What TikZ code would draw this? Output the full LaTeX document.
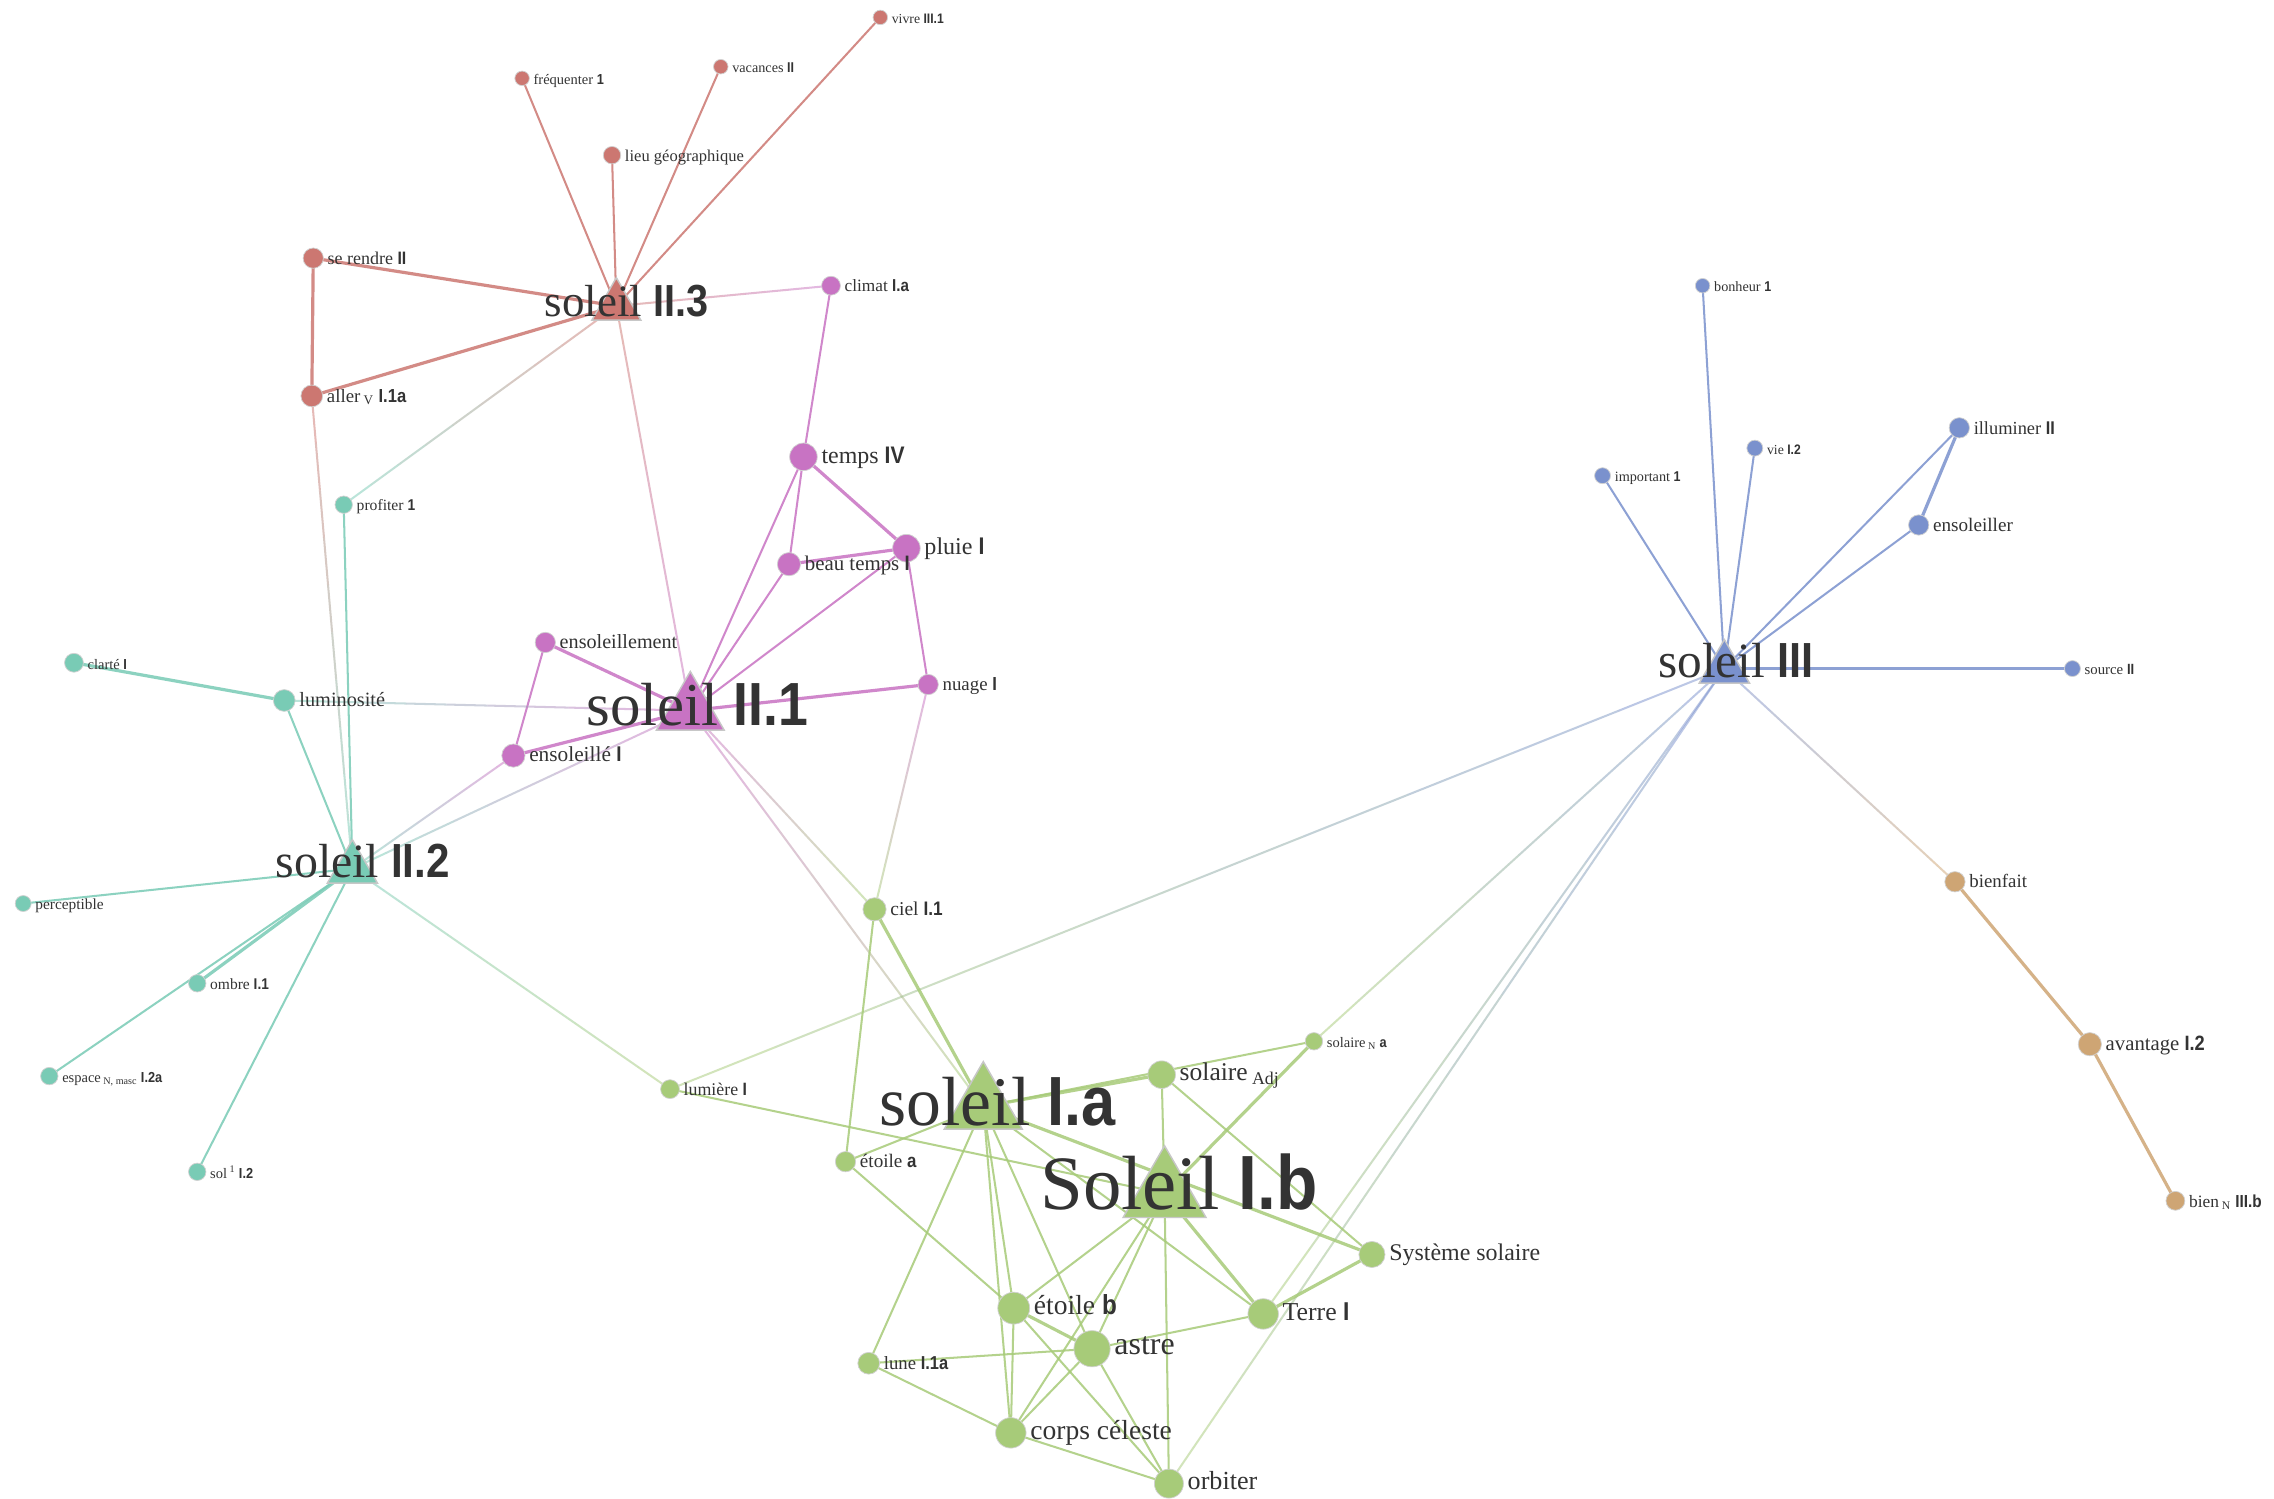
\documentclass[tikz,border=0pt]{standalone}
\usepackage{fontspec}
\setmainfont{Liberation Serif}
\newfontfamily\snsfont[FakeStretch=0.88]{Liberation Sans}
\usepackage{xcolor}
\usepackage{tikz}
\usetikzlibrary{positioning,calc,shapes.geometric}

\definecolor{cRed}{RGB}{204,119,113}
\definecolor{cMag}{RGB}{200,115,195}
\definecolor{cTeal}{RGB}{121,203,181}
\definecolor{cBlue}{RGB}{122,145,205}
\definecolor{cTan}{RGB}{206,165,116}
\definecolor{cGreen}{RGB}{167,203,121}
\definecolor{txt}{RGB}{51,51,51}

\pgfdeclarelayer{bg}
\pgfsetlayers{bg,main}

\newcommand{\sns}[1]{{\snsfont\bfseries #1}}
% link that fades from one cluster colour to the other
\newcommand{\blendlink}[4]{%
  \foreach \seg in {0,...,9}{%
    \pgfmathsetmacro{\segA}{\seg/10}%
    \pgfmathsetmacro{\segB}{(\seg+1)/10}%
    \pgfmathtruncatemacro{\segMix}{100-\seg*100/9}%
    \draw[lnk, draw opacity=0.5, draw=#2!\segMix!#4]
      ($(#1.center)!\segA!(#3.center)$) -- ($(#1.center)!\segB!(#3.center)$);
  }%
}

\tikzset{
  word/.style={circle, inner sep=0pt, minimum size=#1, draw=white!82!black, line width=0.5pt},
  sense/.style={regular polygon, regular polygon sides=3, inner sep=0pt, minimum size=#1, draw=white!78!black, line width=1pt},
  lbl/.style={font=\fontsize{#1}{#1}\selectfont, text=txt, inner sep=0pt, anchor=mid west, yshift=-2pt},
  biglbl/.style={font=\fontsize{#1}{#1}\selectfont, text=txt, inner sep=0pt, anchor=base},
  lnk/.style={line width=1.4pt, draw opacity=0.85},
  heavy/.style={line width=2.2pt},
}

\begin{document}
\begin{tikzpicture}[x=1pt,y=-1pt]
        \useasboundingbox (0,0) rectangle (1568,1033);
        \begin{pgfonlayer}{bg}
          \fill[white] (0,0) rectangle (1568,1033);
        \end{pgfonlayer}

        % soleil II.3
        \node[sense=39, fill=cRed] (sII3) at (425,211) {};
        \node[word=10, fill=cRed] (vivre) at (607,12) {};
        \node[word=10, fill=cRed] (vacances) at (497,46) {};
        \node[word=10, fill=cRed] (frequenter) at (360,54) {};
        \node[word=12, fill=cRed] (lieu) at (422,107) {};
        \node[word=14, fill=cRed] (serendre) at (216,178) {};
        \node[word=15, fill=cRed] (aller) at (215,273) {};

        % soleil II.1
        \node[sense=54, fill=cMag] (sII1) at (476,490) {};
        \node[word=13, fill=cMag] (climat) at (573,197) {};
        \node[word=19, fill=cMag] (temps) at (554,315) {};
        \node[word=19, fill=cMag] (pluie) at (625,378) {};
        \node[word=16, fill=cMag] (beautemps) at (544,389) {};
        \node[word=14, fill=cMag] (ensoleillement) at (376,443) {};
        \node[word=14, fill=cMag] (nuage) at (640,472) {};
        \node[word=16, fill=cMag] (ensoleille) at (354,521) {};

        % soleil II.2
        \node[sense=40, fill=cTeal] (sII2) at (243,599) {};
        \node[word=12, fill=cTeal] (profiter) at (237,348) {};
        \node[word=13, fill=cTeal] (clarte) at (51,457) {};
        \node[word=15, fill=cTeal] (luminosite) at (196,483) {};
        \node[word=11, fill=cTeal] (perceptible) at (16,623) {};
        \node[word=12, fill=cTeal] (ombre) at (136,678) {};
        \node[word=12, fill=cTeal] (espace) at (34,742) {};
        \node[word=12, fill=cTeal] (sol) at (136,808) {};

        % soleil III
        \node[sense=40, fill=cBlue] (sIII) at (1189,461) {};
        \node[word=10, fill=cBlue] (bonheur) at (1174,197) {};
        \node[word=14, fill=cBlue] (illuminer) at (1351,295) {};
        \node[word=11, fill=cBlue] (vie) at (1210,309) {};
        \node[word=11, fill=cBlue] (important) at (1105,328) {};
        \node[word=14, fill=cBlue] (ensoleiller) at (1323,362) {};
        \node[word=11, fill=cBlue] (source) at (1429,461) {};
        \node[word=14, fill=cTan] (bienfait) at (1348,608) {};
        \node[word=16, fill=cTan] (avantage) at (1441,720) {};
        \node[word=13, fill=cTan] (bien) at (1500,828) {};

        % soleil I.a / Soleil I.b
        \node[sense=62, fill=cGreen] (sIa) at (678,763) {};
        \node[sense=66, fill=cGreen] (sIb) at (803,823) {};
        \node[word=16, fill=cGreen] (ciel) at (603,627) {};
        \node[word=12, fill=cGreen] (solaireN) at (906,718) {};
        \node[word=19, fill=cGreen] (solaireAdj) at (801,741) {};
        \node[word=13, fill=cGreen] (lumiere) at (462,751) {};
        \node[word=14, fill=cGreen] (etoilea) at (583,801) {};
        \node[word=18, fill=cGreen] (systeme) at (946,865) {};
        \node[word=22, fill=cGreen] (etoileb) at (699,902) {};
        \node[word=21, fill=cGreen] (terre) at (871,906) {};
        \node[word=25, fill=cGreen] (astre) at (753,930) {};
        \node[word=15, fill=cGreen] (lune) at (599,940) {};
        \node[word=21, fill=cGreen] (corps) at (697,988) {};
        \node[word=20, fill=cGreen] (orbiter) at (806,1023) {};

        % Labels
        \node[biglbl=31] (sII3-t) at (432,218) {soleil \sns{II.3}};
        \node[biglbl=42] (sII1-t) at (481,500) {soleil \sns{II.1}};
        \node[biglbl=33] (sII2-t) at (250,605) {soleil \sns{II.2}};
        \node[biglbl=34] (sIII-t) at (1197,467) {soleil \sns{III}};
        \node[biglbl=48] (sIa-t) at (688,776) {soleil \sns{I.a}};
        \node[biglbl=53] (sIb-t) at (813,834) {Soleil \sns{I.b}};

        \node[right=2.5pt of vivre, lbl=9.5] (vivre-t) {vivre \sns{III.1}};
        \node[right=2.5pt of vacances, lbl=9.8] (vacances-t) {vacances \sns{II}};
        \node[right=2.5pt of frequenter, lbl=10] (frequenter-t) {fréquenter \sns{1}};
        \node[right=2.5pt of lieu, lbl=11.4] (lieu-t) {lieu géographique};
        \node[right=2.5pt of serendre, lbl=12.4] (serendre-t) {se rendre \sns{II}};
        \node[right=2.5pt of aller, lbl=13] (aller-t) {aller\,\textsubscript{V} \sns{I.1a}};

        \node[right=2.5pt of climat, lbl=11.9] (climat-t) {climat \sns{I.a}};
        \node[right=2.5pt of temps, lbl=16.5] (temps-t) {temps \sns{IV}};
        \node[right=2.5pt of pluie, lbl=16.6] (pluie-t) {pluie \sns{I}};
        \node[right=2.5pt of beautemps, lbl=14.4] (beautemps-t) {beau temps \sns{I}};
        \node[right=2.5pt of ensoleillement, lbl=13.9] (ensoleillement-t) {ensoleillement};
        \node[right=2.5pt of nuage, lbl=13] (nuage-t) {nuage \sns{I}};
        \node[right=2.5pt of ensoleille, lbl=14.7] (ensoleille-t) {ensoleillé \sns{I}};

        \node[right=2.5pt of profiter, lbl=10.8] (profiter-t) {profiter \sns{1}};
        \node[right=2.5pt of clarte, lbl=10] (clarte-t) {clarté \sns{I}};
        \node[right=2.5pt of luminosite, lbl=14] (luminosite-t) {luminosité};
        \node[right=2.5pt of perceptible, lbl=10.6] (perceptible-t) {perceptible};
        \node[right=2.5pt of ombre, lbl=10.7] (ombre-t) {ombre \sns{I.1}};
        \node[right=2.5pt of espace, lbl=10] (espace-t) {espace\,\textsubscript{N, masc} \sns{I.2a}};
        \node[right=2.5pt of sol, lbl=10] (sol-t) {sol\,\textsuperscript{1} \sns{I.2}};

        \node[right=2.5pt of bonheur, lbl=9.8] (bonheur-t) {bonheur \sns{1}};
        \node[right=2.5pt of illuminer, lbl=12.7] (illuminer-t) {illuminer \sns{II}};
        \node[right=2.5pt of vie, lbl=9.5] (vie-t) {vie \sns{I.2}};
        \node[right=2.5pt of important, lbl=9.8] (important-t) {important \sns{1}};
        \node[right=2.5pt of ensoleiller, lbl=13.2] (ensoleiller-t) {ensoleiller};
        \node[right=2.5pt of source, lbl=10.2] (source-t) {source \sns{II}};
        \node[right=2.5pt of bienfait, lbl=13] (bienfait-t) {bienfait};
        \node[right=2.5pt of avantage, lbl=14.3] (avantage-t) {avantage \sns{I.2}};
        \node[right=2.5pt of bien, lbl=12] (bien-t) {bien\,\textsubscript{N} \sns{III.b}};

        \node[right=2.5pt of ciel, lbl=13.5] (ciel-t) {ciel \sns{I.1}};
        \node[right=2.5pt of solaireN, lbl=10] (solaireN-t) {solaire\,\textsubscript{N} \sns{a}};
        \node[right=2.5pt of solaireAdj, lbl=17.6] (solaireAdj-t) {solaire\,\textsubscript{Adj}};
        \node[right=2.5pt of lumiere, lbl=12.3] (lumiere-t) {lumière \sns{I}};
        \node[right=2.5pt of etoilea, lbl=13.2] (etoilea-t) {étoile \sns{a}};
        \node[right=2.5pt of systeme, lbl=16.5] (systeme-t) {Système solaire};
        \node[right=2.5pt of etoileb, lbl=19] (etoileb-t) {étoile \sns{b}};
        \node[right=2.5pt of terre, lbl=17.8] (terre-t) {Terre \sns{I}};
        \node[right=2.5pt of astre, lbl=22] (astre-t) {astre};
        \node[right=2.5pt of lune, lbl=12.9] (lune-t) {lune \sns{I.1a}};
        \node[right=2.5pt of corps, lbl=19] (corps-t) {corps céleste};
        \node[right=2.5pt of orbiter, lbl=18] (orbiter-t) {orbiter};

        % Links
        \begin{pgfonlayer}{bg}
          \draw[lnk, cRed] (sII3.center) -- (vivre.center);
          \draw[lnk, cRed] (sII3.center) -- (vacances.center);
          \draw[lnk, cRed] (sII3.center) -- (frequenter.center);
          \draw[lnk, cRed] (sII3.center) -- (lieu.center);
          \draw[lnk, heavy, cRed] (sII3.center) -- (serendre.center);
          \draw[lnk, heavy, cRed] (sII3.center) -- (aller.center);
          \draw[lnk, heavy, cRed] (serendre.center) -- (aller.center);
          \blendlink{sII3}{cRed}{climat}{cMag}
          \blendlink{sII3}{cRed}{sII1}{cMag}
          \blendlink{sII3}{cRed}{profiter}{cTeal}
          \blendlink{aller}{cRed}{sII2}{cTeal}

          \draw[lnk, cMag] (climat.center) -- (temps.center);
          \draw[lnk, cMag] (temps.center) -- (sII1.center);
          \draw[lnk, cMag] (temps.center) -- (beautemps.center);
          \draw[lnk, heavy, cMag] (temps.center) -- (pluie.center);
          \draw[lnk, heavy, cMag] (beautemps.center) -- (pluie.center);
          \draw[lnk, cMag] (beautemps.center) -- (sII1.center);
          \draw[lnk, cMag] (pluie.center) -- (sII1.center);
          \draw[lnk, cMag] (pluie.center) -- (nuage.center);
          \draw[lnk, heavy, cMag] (nuage.center) -- (sII1.center);
          \draw[lnk, heavy, cMag] (ensoleillement.center) -- (sII1.center);
          \draw[lnk, cMag] (ensoleillement.center) -- (ensoleille.center);
          \draw[lnk, heavy, cMag] (ensoleille.center) -- (sII1.center);
          \blendlink{nuage}{cMag}{ciel}{cGreen}
          \blendlink{sII1}{cMag}{ciel}{cGreen}
          \blendlink{sII1}{cMag}{sIa}{cGreen}

          \draw[lnk, heavy, cTeal] (luminosite.center) -- (clarte.center);
          \draw[lnk, cTeal] (luminosite.center) -- (sII2.center);
          \draw[lnk, cTeal] (profiter.center) -- (sII2.center);
          \draw[lnk, cTeal] (perceptible.center) -- (sII2.center);
          \draw[lnk, heavy, cTeal] (ombre.center) -- (sII2.center);
          \draw[lnk, cTeal] (espace.center) -- (sII2.center);
          \draw[lnk, cTeal] (sol.center) -- (sII2.center);
          \blendlink{luminosite}{cTeal}{sII1}{cMag}
          \blendlink{sII2}{cTeal}{ensoleille}{cMag}
          \blendlink{sII2}{cTeal}{sII1}{cMag}
          \blendlink{sII2}{cTeal}{lumiere}{cGreen}

          \draw[lnk, cBlue] (sIII.center) -- (bonheur.center);
          \draw[lnk, cBlue] (sIII.center) -- (vie.center);
          \draw[lnk, cBlue] (sIII.center) -- (important.center);
          \draw[lnk, cBlue] (sIII.center) -- (illuminer.center);
          \draw[lnk, cBlue] (sIII.center) -- (ensoleiller.center);
          \draw[lnk, heavy, cBlue] (sIII.center) -- (source.center);
          \draw[lnk, heavy, cBlue] (illuminer.center) -- (ensoleiller.center);
          \blendlink{sIII}{cBlue}{bienfait}{cTan}
          \blendlink{sIII}{cBlue}{lumiere}{cGreen}
          \blendlink{sIII}{cBlue}{solaireN}{cGreen}
          \blendlink{sIII}{cBlue}{terre}{cGreen}
          \blendlink{sIII}{cBlue}{orbiter}{cGreen}
          \draw[lnk, heavy, cTan] (bienfait.center) -- (avantage.center);
          \draw[lnk, heavy, cTan] (avantage.center) -- (bien.center);

          \draw[lnk, heavy, cGreen] (ciel.center) -- (sIa.center);
          \draw[lnk, cGreen] (ciel.center) -- (etoilea.center);
          \draw[lnk, cGreen] (sIa.center) -- (solaireN.center);
          \draw[lnk, heavy, cGreen] (sIa.center) -- (solaireAdj.center);
          \draw[lnk, cGreen] (sIa.center) -- (etoilea.center);
          \draw[lnk, cGreen] (sIa.center) -- (lune.center);
          \draw[lnk, cGreen] (sIa.center) -- (etoileb.center);
          \draw[lnk, cGreen] (sIa.center) -- (corps.center);
          \draw[lnk, cGreen] (sIa.center) -- (astre.center);
          \draw[lnk, heavy, cGreen] (sIa.center) -- (systeme.center);
          \draw[lnk, cGreen] (sIa.center) -- (terre.center);
          \draw[lnk, cGreen] (lumiere.center) -- (sIb.center);
          \draw[lnk, cGreen] (sIb.center) -- (solaireAdj.center);
          \draw[lnk, heavy, cGreen] (sIb.center) -- (solaireN.center);
          \draw[lnk, cGreen] (sIb.center) -- (etoileb.center);
          \draw[lnk, cGreen] (sIb.center) -- (corps.center);
          \draw[lnk, cGreen] (sIb.center) -- (astre.center);
          \draw[lnk, cGreen] (sIb.center) -- (orbiter.center);
          \draw[lnk, heavy, cGreen] (sIb.center) -- (terre.center);
          \draw[lnk, cGreen] (solaireAdj.center) -- (systeme.center);
          \draw[lnk, cGreen] (etoilea.center) -- (etoileb.center);
          \draw[lnk, heavy, cGreen] (etoileb.center) -- (astre.center);
          \draw[lnk, cGreen] (etoileb.center) -- (corps.center);
          \draw[lnk, cGreen] (etoileb.center) -- (orbiter.center);
          \draw[lnk, cGreen] (astre.center) -- (lune.center);
          \draw[lnk, cGreen] (astre.center) -- (terre.center);
          \draw[lnk, cGreen] (astre.center) -- (corps.center);
          \draw[lnk, cGreen] (astre.center) -- (orbiter.center);
          \draw[lnk, cGreen] (lune.center) -- (corps.center);
          \draw[lnk, cGreen] (corps.center) -- (orbiter.center);
          \draw[lnk, heavy, cGreen] (terre.center) -- (systeme.center);
        \end{pgfonlayer}
      \end{tikzpicture}
\end{document}
